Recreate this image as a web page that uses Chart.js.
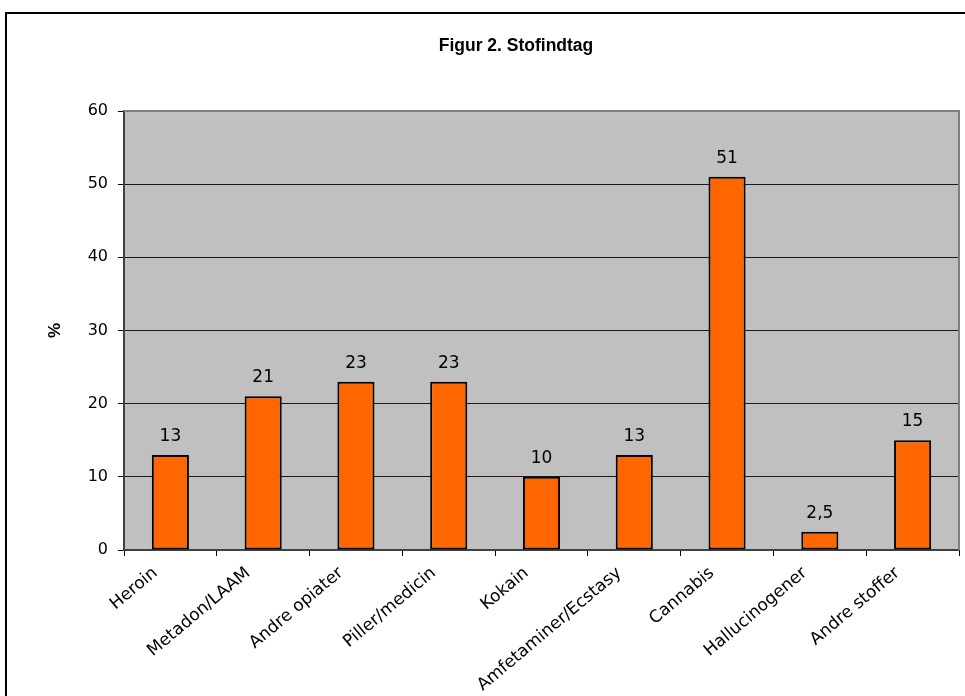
<!DOCTYPE html>
<html>
<head>
<meta charset="utf-8">
<script src="https://cdn.jsdelivr.net/npm/chart.js@4"></script>
<style>
  body { margin: 0; overflow: hidden; background: #fff; }
  #wrap { position: absolute; left: 0; top: 0; width: 1030px; height: 696px; }
  #frame { position: absolute; left: 5px; top: 12px; width: 1100px; height: 800px; border: 2px solid #000; pointer-events: none; }
</style>
</head>
<body>
<div id="wrap"><canvas id="stofChart"></canvas></div>
<div id="frame"></div>
<script>
const categories = ['Heroin', 'Metadon/LAAM', 'Andre opiater', 'Piller/medicin', 'Kokain',
    'Amfetaminer/Ecstasy', 'Cannabis', 'Hallucinogener', 'Andre stoffer'];
const percentages = [13, 21, 23, 23, 10, 13, 51, 2.5, 15];
const yTicks = [0, 10, 20, 30, 40, 50, 60];
const chartTitle = 'Figur 2. Stofindtag';

const FONT = "'Liberation Sans', Arial, sans-serif";
const WIDE = "'DejaVu Sans', Verdana, sans-serif";
Chart.defaults.font.family = WIDE;
Chart.defaults.color = '#000';

// grey plot area + its border
const plotArea = {
    id: 'plotArea',
    beforeDraw(chart) {
        const a = chart.chartArea, c = chart.ctx;
        c.save();
        c.fillStyle = '#C0C0C0';
        c.fillRect(a.left, a.top, a.right - a.left, a.bottom - a.top);
        c.restore();
    },
    beforeDatasetsDraw(chart) {
        const a = chart.chartArea, c = chart.ctx;
        c.save();
        c.strokeStyle = '#808080';
        c.lineWidth = 2;
        c.beginPath();
        c.moveTo(a.left, a.top);
        c.lineTo(a.right, a.top);
        c.lineTo(a.right, a.bottom);
        c.stroke();
        c.restore();
    }
};

// title centred on the whole chart object (wider than the window)
const chartHeading = {
    id: 'chartHeading',
    afterDraw(chart) {
        const c = chart.ctx;
        c.save();
        c.font = 'bold 17.5px ' + FONT;
        c.fillStyle = '#000';
        c.textAlign = 'center';
        c.textBaseline = 'alphabetic';
        c.fillText(chartTitle, chart.width / 2 + 1, 51);
        c.restore();
    }
};

// value labels above bars
const valueLabels = {
    id: 'valueLabels',
    afterDatasetsDraw(chart) {
        const c = chart.ctx;
        const meta = chart.getDatasetMeta(0);
        c.save();
        c.font = '17px ' + WIDE;
        c.fillStyle = '#000';
        c.textAlign = 'center';
        c.textBaseline = 'alphabetic';
        meta.data.forEach((bar, i) => {
            c.fillText(String(percentages[i]).replace('.', ','), bar.x, bar.y - 14);
        });
        c.restore();
    }
};

new Chart(document.getElementById('stofChart'), {
    type: 'bar',
    data: {
        labels: categories,
        datasets: [{
            data: percentages,
            backgroundColor: '#FF6600',
            borderColor: '#000',
            borderWidth: 2,
            borderSkipped: false,
            categoryPercentage: 1,
            barPercentage: 0.4
        }]
    },
    options: {
        responsive: true,
        maintainAspectRatio: false,
        animation: false,
        layout: { padding: { left: 0, right: 71, top: 111, bottom: 0 } },
        plugins: {
            legend: { display: false },
            tooltip: { enabled: false },
            title: { display: false }
        },
        scales: {
            x: {
                grid: { drawOnChartArea: false, tickLength: 6, tickColor: '#000', offset: true },
                border: { color: '#404040', width: 2 },
                ticks: {
                    autoSkip: false,
                    minRotation: 40,
                    maxRotation: 40,
                    labelOffset: -15,
                    padding: 7,
                    font: { size: 17 }
                },
                afterFit(scale) { scale.height = 146; }
            },
            y: {
                min: 0,
                max: 60,
                afterBuildTicks(scale) { scale.ticks = yTicks.map(v => ({ value: v })); },
                grid: {
                    color: ctx => ctx.tick && ctx.tick.value === 60 ? 'rgba(0,0,0,0)' : '#1a1a1a',
                    lineWidth: 1,
                    tickLength: 6,
                    tickColor: '#000'
                },
                border: { color: '#404040', width: 2 },
                ticks: { padding: 10, font: { size: 16 } },
                title: {
                    display: true,
                    text: '%',
                    font: { family: FONT, size: 17, weight: 'bold' },
                    padding: { top: 45, bottom: 0 }
                },
                afterFit(scale) { scale.width = 124; }
            }
        }
    },
    plugins: [plotArea, valueLabels, chartHeading]
});
</script>
</body>
</html>
